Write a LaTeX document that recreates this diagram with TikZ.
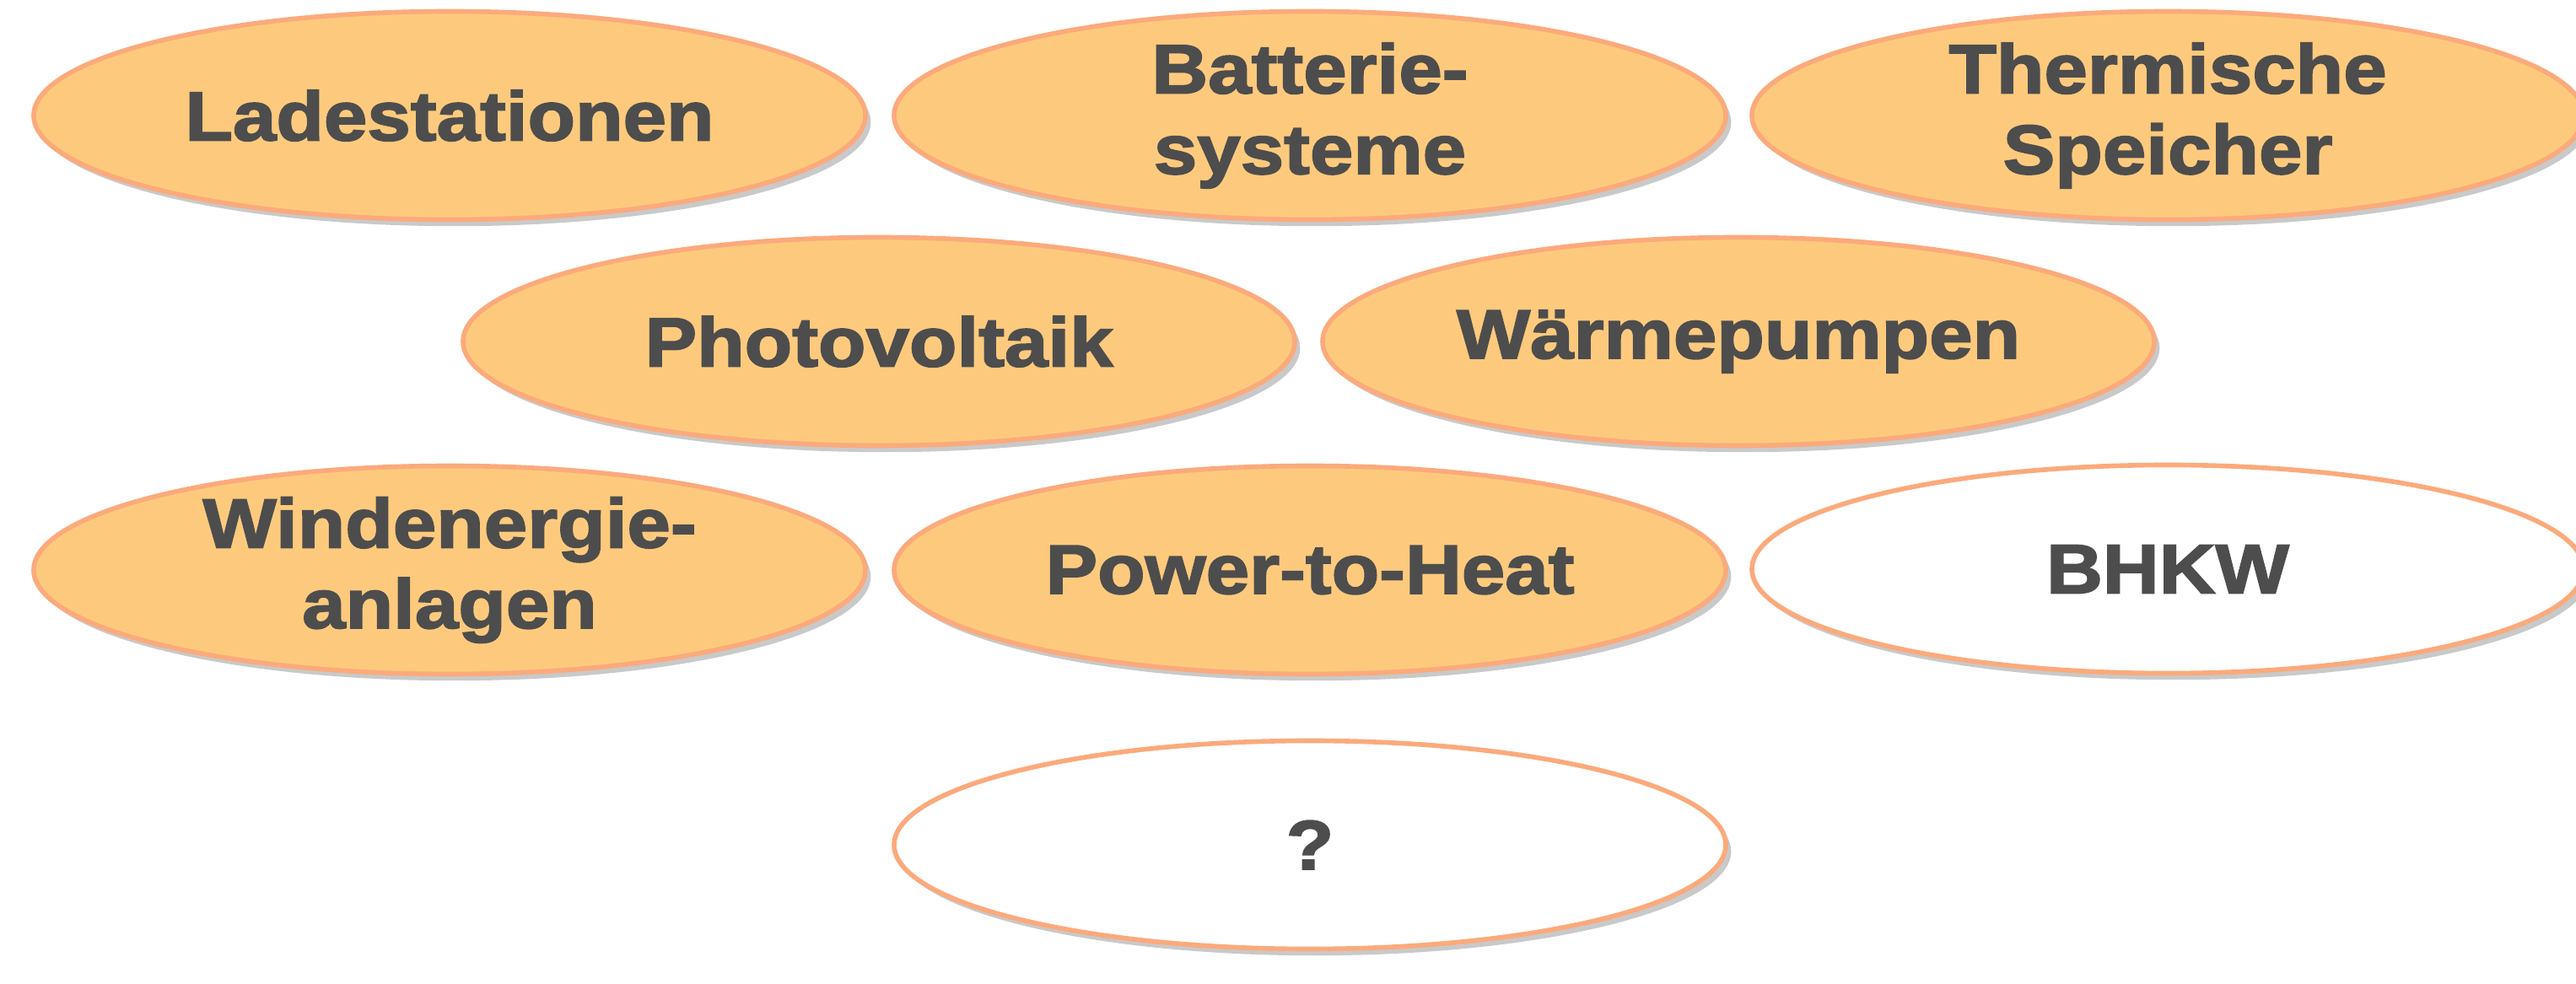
\documentclass[tikz,border=0pt]{standalone}
\usepackage{fontspec}
\setmainfont{Liberation Sans}
\newfontfamily\heavyfont[FakeBold=2.2,FakeStretch=1.12]{Liberation Sans Bold}
\usetikzlibrary{shapes.geometric,shadows}
\definecolor{ovfill}{HTML}{FDCA7D}
\definecolor{ovline}{HTML}{FBAA7C}
\definecolor{ovtext}{HTML}{4D4D4D}
\tikzset{
  oval/.style={ellipse, draw=ovline, line width=1.6pt, fill=ovfill,
    minimum width=9.86cm, minimum height=2.47cm, inner sep=0pt,
    align=center, text=ovtext,
    font=\heavyfont\fontsize{23.5pt}{27.2pt}\selectfont,
    drop shadow={shadow xshift=1.8pt, shadow yshift=-2.2pt, opacity=0.3, fill=black!70}},
  ovalw/.style={oval, fill=white}
}
\begin{document}
\begin{tikzpicture}
\useasboundingbox (0,0) rectangle (30.54,-11.67);
\node[oval] (lade) at (5.33,-1.37) {Ladestationen};
\node[oval] (batt) at (15.53,-1.37) {Batterie-\\systeme};
\node[oval] (therm) at (25.70,-1.37) {Thermische\\Speicher};
\node[oval] (pv) at (10.42,-4.05) {Photovoltaik};
\node[oval] (wp) at (20.61,-4.05) {Wärmepumpen};
\node[oval] (wind) at (5.33,-6.76) {Windenergie-\\anlagen};
\node[oval] (pth) at (15.53,-6.76) {Power-to-Heat};
\node[ovalw] (bhkw) at (25.70,-6.75) {BHKW};
\node[ovalw] (q) at (15.53,-10.02) {?};
\end{tikzpicture}
\end{document}
